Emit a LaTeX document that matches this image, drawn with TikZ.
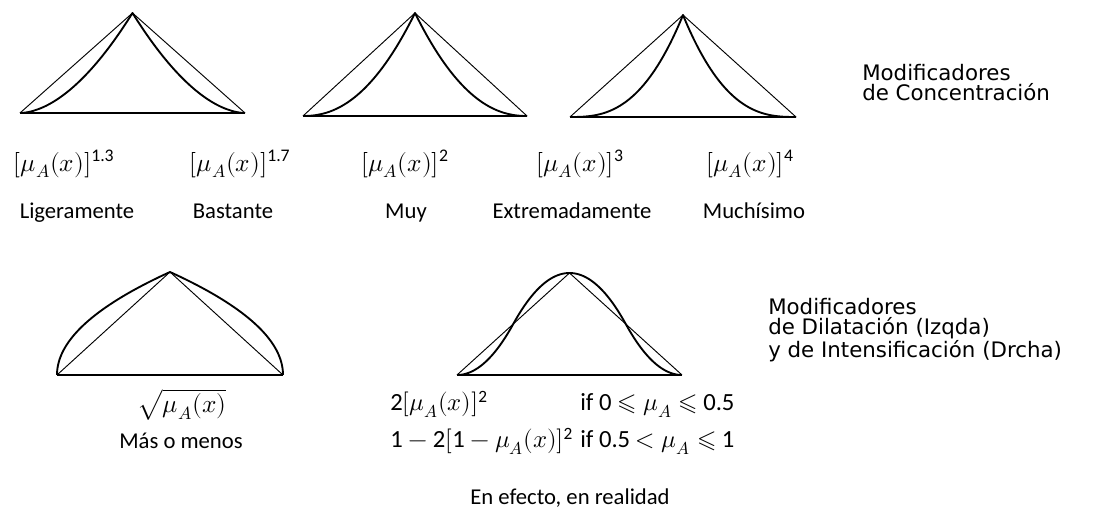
\documentclass[tikz,border=0pt]{standalone}
\usepackage{amsmath}
\usepackage{unicode-math}
\newfontfamily\dejavu{DejaVu Sans}
\newfontfamily\carl{Carlito}
\newcommand{\cn}[1]{\text{\carl #1}}
\newcommand{\muax}{\mu_A(x)}
\newcommand{\powtri}[5]{% #1 xl, #2 xr, #3 y base, #4 y apex, #5 exponent
  \pgfmathsetmacro\xapex{(#1+#2)/2}
  \draw[baselin] (#1,#3) -- (#2,#3);
  \draw[sidelin] (#1,#3) -- (\xapex,#4) -- (#2,#3);
  \draw[curvelin] (#1,#3) -- plot[domain=0.001:1,samples=70] ({#1+\x*(\xapex-#1)},{#3-(#3-#4)*(\x)^#5})
     -- plot[domain=1:0.001,samples=70] ({#2-\x*(#2-\xapex)},{#3-(#3-#4)*(\x)^#5}) -- (#2,#3);
}
\begin{document}
\begin{tikzpicture}[x=0.75pt,y=-0.75pt,
  sidelin/.style={line width=0.7pt},
  curvelin/.style={line width=1.4pt,line join=round},
  baselin/.style={line width=1.5pt},
  formula/.style={inner sep=0pt,font=\fontsize{19}{23}\selectfont},
  formulb/.style={inner sep=0pt,anchor=base west,font=\fontsize{18.5}{22}\selectfont},
  lbl/.style={inner sep=0pt,anchor=base,font=\carl\fontsize{17}{20}\selectfont},
  heading/.style={inner sep=0pt,align=left,anchor=north west,font=\dejavu\fontsize{16}{15}\selectfont}]
\useasboundingbox (0,0) rectangle (1103,523);
% top row
\powtri{20}{245}{113}{13}{1.8}
\powtri{303}{527}{116}{13}{2.2}
\powtri{570}{796}{117}{15}{2.7}
\node[heading] (hc) at (862,64) {Modificadores\\de Concentración};
% labels top row
\node[formula] (f1) at (64,164) {$[\muax]^{\cn{1.3}}$};
\node[formula] (f2) at (240,164) {$[\muax]^{\cn{1.7}}$};
\node[formula] (f3) at (405,164) {$[\muax]^{\cn{2}}$};
\node[formula] (f4) at (580,164) {$[\muax]^{\cn{3}}$};
\node[formula] (f5) at (750,164) {$[\muax]^{\cn{4}}$};
\node[lbl] (n1) at (77,219) {Ligeramente};
\node[lbl] (n2) at (233,219) {Bastante};
\node[lbl] (n3) at (406,219) {Muy};
\node[lbl] (n4) at (572,219) {Extremadamente};
\node[lbl] (n5) at (754,219) {Muchísimo};
% bottom row: dilation (sqrt)
\draw[baselin] (57,375) -- (283,375);
\draw[sidelin] (57,375) -- (170,272) -- (283,375);
\draw[curvelin] plot[domain=0:1,samples=70] ({57+\x*\x*113},{375-103*\x})
   -- plot[domain=1:0,samples=70] ({283-\x*\x*113},{375-103*\x});
% bottom row: intensification
\draw[baselin] (457,375) -- (682,375);
\draw[sidelin] (457,375) -- (569.5,273) -- (682,375);
\draw[curvelin] plot[domain=0:1,samples=80] ({457+\x*112.5},{375-102*(\x<0.5 ? 2*\x*\x : 1-2*(1-\x)*(1-\x))})
   -- plot[domain=1:0,samples=80] ({682-\x*112.5},{375-102*(\x<0.5 ? 2*\x*\x : 1-2*(1-\x)*(1-\x))});
\node[heading] (hd) at (768,298) {Modificadores\\de Dilatación (Izqda)\\y de Intensificación (Drcha)};
\node[formula] (sq) at (182,405) {$\sqrt{\muax}$};
\node[lbl] (nm) at (181,449) {Más o menos};
\node[formulb] (p1) at (390,411) {$\cn{2}[\muax]^{\cn{2}}$};
\node[formulb] (c1) at (580,411) {\carl if 0 $\leqslant\mu_A\leqslant$ 0.5};
\node[formulb] (p2) at (390,448) {$\cn{1}-\cn{2}[\cn{1}-\muax]^{\cn{2}}$};
\node[formulb] (c2) at (580,448) {\carl if 0.5 $<\mu_A\leqslant$ 1};
\node[lbl] (ne) at (570,505) {En efecto, en realidad};
\end{tikzpicture}
\end{document}
